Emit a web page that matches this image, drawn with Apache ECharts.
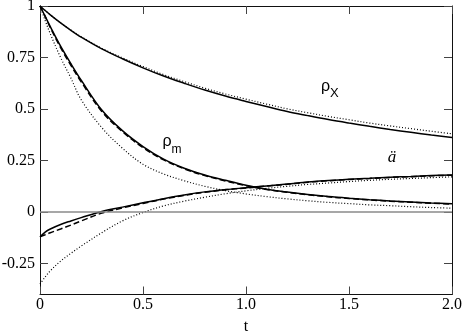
<!DOCTYPE html>
<html>
<head>
<meta charset="utf-8">
<script src="https://cdn.jsdelivr.net/npm/echarts@6/dist/echarts.min.js"></script>
<style>
  html, body { margin: 0; padding: 0; background: #fff; }
  #chart { width: 463px; height: 334px; }
</style>
</head>
<body>
<div id="chart"></div>
<script>
// 时间点 t（横轴）
var tVals = [0, 0.025, 0.05, 0.1, 0.15, 0.2, 0.3, 0.4, 0.5, 0.6, 0.7, 0.8, 0.9, 1.0,
             1.1, 1.2, 1.3, 1.4, 1.5, 1.6, 1.7, 1.8, 1.9, 2.0];

// rho_X
var rhoXSolid  = [1, 0.978, 0.957, 0.918, 0.882, 0.849, 0.792, 0.744, 0.70, 0.66, 0.625, 0.592, 0.563, 0.537,
                  0.512, 0.488, 0.468, 0.449, 0.432, 0.416, 0.401, 0.387, 0.374, 0.362];
var rhoXDotted = [1, 0.978, 0.957, 0.918, 0.883, 0.851, 0.795, 0.748, 0.706, 0.667, 0.633, 0.601, 0.573, 0.548,
                  0.524, 0.501, 0.482, 0.464, 0.448, 0.432, 0.418, 0.405, 0.392, 0.38];

// rho_m
var rhoMSolid  = [1, 0.95, 0.90, 0.805, 0.72, 0.64, 0.495, 0.395, 0.318, 0.257, 0.213, 0.18, 0.154, 0.13,
                  0.111, 0.097, 0.085, 0.075, 0.067, 0.06, 0.054, 0.049, 0.044, 0.04];
var rhoMDashed = [1, 0.95, 0.895, 0.798, 0.712, 0.632, 0.488, 0.39, 0.313, 0.253, 0.21, 0.177, 0.151, 0.128,
                  0.11, 0.096, 0.084, 0.074, 0.066, 0.059, 0.053, 0.048, 0.043, 0.039];
var rhoMDotted = [1, 0.93, 0.865, 0.75, 0.65, 0.545, 0.41, 0.31, 0.232, 0.185, 0.152, 0.125, 0.104, 0.088,
                  0.075, 0.064, 0.055, 0.047, 0.041, 0.035, 0.031, 0.026, 0.022, 0.019];

// 加速度 ä
var accSolid  = [-0.12, -0.097, -0.082, -0.06, -0.043, -0.027, 0.003, 0.024, 0.045, 0.065, 0.083, 0.098, 0.109, 0.118,
                 0.127, 0.136, 0.146, 0.153, 0.159, 0.164, 0.169, 0.173, 0.177, 0.18];
var accDashed = [-0.12, -0.11, -0.1, -0.082, -0.063, -0.043, -0.005, 0.02, 0.042, 0.063, 0.081, 0.096, 0.108, 0.117,
                 0.126, 0.135, 0.145, 0.152, 0.158, 0.163, 0.168, 0.172, 0.176, 0.179];
var accDotted = [-0.35, -0.315, -0.285, -0.238, -0.2, -0.165, -0.1, -0.043, -0.002, 0.03, 0.053, 0.072, 0.089, 0.103,
                 0.115, 0.125, 0.134, 0.141, 0.148, 0.154, 0.159, 0.163, 0.167, 0.171];

// 刻度
var xTicks = [0, 0.5, 1.0, 1.5, 2.0];
var yTicks = [-0.25, 0, 0.25, 0.5, 0.75, 1];

function pairs(ys) {
    return tVals.map(function (t, i) { return [t, ys[i]]; });
}

var SOLID = { color: '#000', width: 1.5, type: 'solid' };
var DASH  = { color: '#000', width: 1.5, type: [6, 3] };
var DOT   = { color: '#000', width: 1.2, type: [1, 2] };

function line(ys, style) {
    return {
        type: 'line',
        data: pairs(ys),
        symbol: 'none',
        smooth: 0.35,
        lineStyle: style,
        silent: true,
        z: 3
    };
}

var serif = 'Liberation Serif';
var sans = 'Liberation Sans';
var tickStyle = { show: true, inside: true, length: 8, lineStyle: { color: '#444', width: 1 } };
var frameLine = { show: true, onZero: false, lineStyle: { color: '#111', width: 1 } };

var myChart = echarts.init(document.getElementById('chart'), null, { renderer: 'canvas' });

var series = [
    line(rhoXDotted, DOT),
    line(rhoXSolid, SOLID),
    line(rhoMDotted, DOT),
    line(rhoMDashed, DASH),
    line(rhoMSolid, SOLID),
    line(accDotted, DOT),
    line(accDashed, DASH),
    line(accSolid, SOLID)
];
// 零线
series[0].markLine = {
    silent: true,
    symbol: 'none',
    label: { show: false },
    lineStyle: { color: '#8a8a8a', width: 1.5, type: 'solid' },
    data: [{ yAxis: 0 }]
};

var option = {
    animation: false,
    backgroundColor: '#fff',
    textStyle: { fontFamily: serif },
    grid: { left: 40, right: 11, top: 6, bottom: 39.5, containLabel: false, outerBoundsMode: 'none' },
    xAxis: [{
        type: 'value', min: 0, max: 2, interval: 0.5,
        name: 't', nameLocation: 'middle', nameGap: 24,
        nameTextStyle: { fontFamily: serif, fontSize: 16, color: '#000' },
        axisLine: frameLine,
        axisTick: tickStyle,
        splitLine: { show: false },
        axisLabel: {
            fontFamily: serif, fontSize: 16, color: '#000', margin: 2,
            customValues: xTicks,
            formatter: function (v) { return v === 0 ? '0' : v.toFixed(1); }
        }
    }, {
        type: 'value', min: 0, max: 2, interval: 0.5, position: 'top',
        axisLine: frameLine,
        axisTick: tickStyle,
        axisLabel: { show: false },
        splitLine: { show: false }
    }],
    yAxis: [{
        type: 'value', min: -0.4, max: 1,
        axisLine: frameLine,
        axisTick: Object.assign({ customValues: yTicks }, tickStyle),
        splitLine: { show: false },
        axisLabel: {
            fontFamily: serif, fontSize: 16, color: '#000', margin: 5,
            customValues: yTicks,
            formatter: function (v) { return String(v); }
        }
    }, {
        type: 'value', min: -0.4, max: 1, position: 'right',
        axisLine: frameLine,
        axisTick: Object.assign({ customValues: yTicks }, tickStyle),
        axisLabel: { show: false },
        splitLine: { show: false }
    }],
    series: series,
    graphic: [
        { type: 'text', x: 321, y: 87, style: { text: 'ρ', font: '16px ' + sans, fill: '#000', textVerticalAlign: 'middle' } },
        { type: 'text', x: 330, y: 93, style: { text: 'X', font: '13px ' + sans, fill: '#000', textVerticalAlign: 'middle' } },
        { type: 'text', x: 162.5, y: 142, style: { text: 'ρ', font: '16px ' + sans, fill: '#000', textVerticalAlign: 'middle' } },
        { type: 'text', x: 171.5, y: 149.5, style: { text: 'm', font: '12px ' + sans, fill: '#000', textVerticalAlign: 'middle' } },
        { type: 'text', x: 392, y: 158, style: { text: 'ä', font: 'italic 17px ' + serif, fill: '#000', textAlign: 'center', textVerticalAlign: 'middle' } }
    ]
};

myChart.setOption(option);
</script>
</body>
</html>
